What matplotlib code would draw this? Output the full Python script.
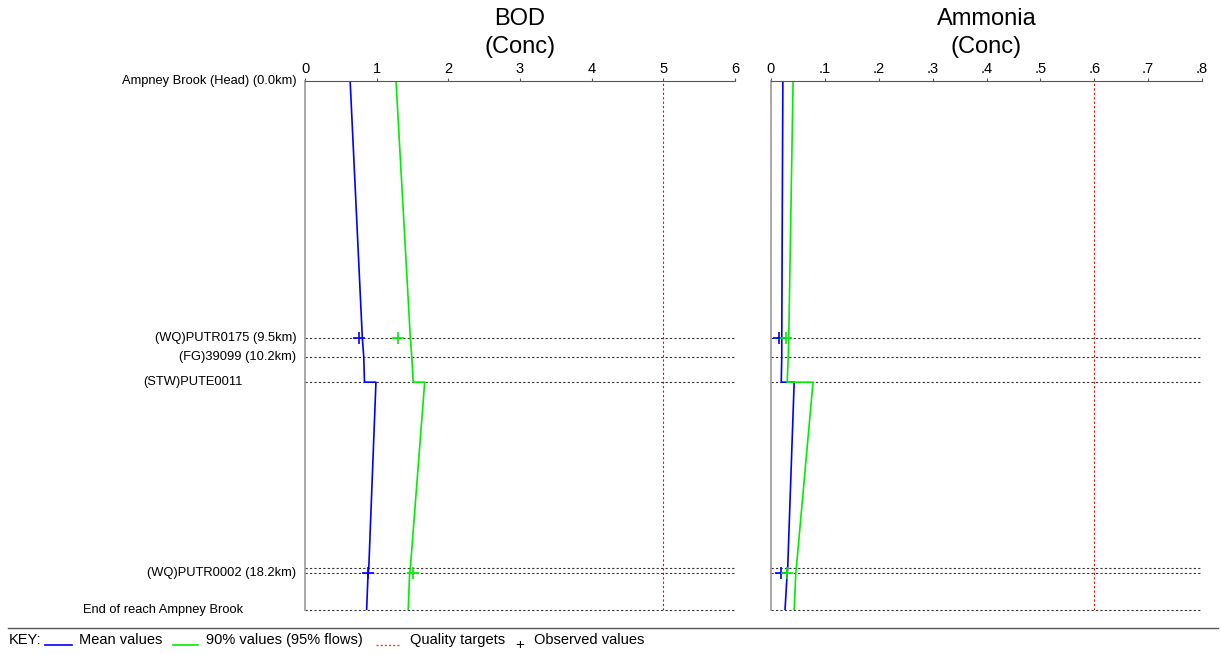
import matplotlib
matplotlib.use('Agg')
import matplotlib.pyplot as plt
from matplotlib.lines import Line2D

# distances down the reach (km)
dist = [0.0, 9.5, 10.2, 11.13, 11.13, 18.0, 18.2, 19.55]
bod_mean = [0.63, 0.80, 0.82, 0.83, 0.99, 0.89, 0.88, 0.86]
bod_90 = [1.27, 1.47, 1.49, 1.51, 1.67, 1.47, 1.46, 1.44]
amm_mean = [0.022, 0.020, 0.020, 0.019, 0.043, 0.031, 0.030, 0.026]
amm_90 = [0.041, 0.033, 0.032, 0.030, 0.078, 0.047, 0.046, 0.043]

# observed values
obs_dist = [9.5, 18.2]
bod_obs_mean = [0.75, 0.88]
bod_obs_90 = [1.30, 1.51]
amm_obs_mean = [0.015, 0.019]
amm_obs_90 = [0.028, 0.030]

# features
feat_dist = [0.0, 9.5, 10.2, 11.13, 18.0, 18.2, 19.55]
feat_labels = ['Ampney Brook (Head) (0.0km)', '(WQ)PUTR0175 (9.5km)', '(FG)39099 (10.2km)',
               '(STW)PUTE0011', '', '(WQ)PUTR0002 (18.2km)', 'End of reach Ampney Brook']
bod_target = 5
amm_target = 0.6

fig = plt.figure(figsize=(12.21, 6.54), dpi=100)
plt.rcParams['font.family'] = ['Liberation Sans', 'DejaVu Sans']

bottom = 1 - 610 / 654
top = 1 - 81 / 654
ax1 = fig.add_axes([305 / 1221, bottom, 430 / 1221, top - bottom])
ax2 = fig.add_axes([771 / 1221, bottom, 431 / 1221, top - bottom])

panels = [
    (ax1, bod_mean, bod_90, bod_obs_mean, bod_obs_90, bod_target, 6, [0, 1, 2, 3, 4, 5, 6],
     ['0', '1', '2', '3', '4', '5', '6'], 'BOD\n(Conc)'),
    (ax2, amm_mean, amm_90, amm_obs_mean, amm_obs_90, amm_target, 0.8,
     [0, 0.1, 0.2, 0.3, 0.4, 0.5, 0.6, 0.7, 0.8],
     ['0', '.1', '.2', '.3', '.4', '.5', '.6', '.7', '.8'], 'Ammonia\n(Conc)'),
]

for ax, mean, p90, om, o90, target, xmax, ticks, tlabels, title in panels:
    for d in feat_dist[1:]:
        ax.axhline(d, color='#333333', ls=(0, (2, 2)), lw=0.8, clip_on=False)
    ax.axvline(target, color='red', ls=(0, (2, 2)), lw=0.8)
    ax.plot(mean, dist, color='#0000ff', lw=1.2)
    ax.plot(p90, dist, color='#00ee00', lw=1.2)
    ax.plot(om, obs_dist, '+', color='#0000ff', ms=9, mew=1.2)
    ax.plot(o90, obs_dist, '+', color='#00ee00', ms=9, mew=1.2)
    ax.set_xlim(0, xmax)
    ax.set_ylim(19.55, 0)
    ax.xaxis.tick_top()
    ax.set_xticks(ticks)
    ax.set_xticklabels(tlabels, fontsize=10.5)
    ax.tick_params(axis='x', direction='out', length=2.5, pad=1, colors='#555555', labelcolor='black')
    ax.set_yticks([])
    for s in ['right', 'bottom']:
        ax.spines[s].set_visible(False)
    ax.spines['top'].set_color('#555555')
    ax.spines['left'].set_color('#999999')
    ax.spines['left'].set_linewidth(1.2)
    ax.set_title(title, fontsize=17, pad=20, linespacing=1.35)

# feature labels on the left
for d, lab in zip(feat_dist, feat_labels):
    if lab == '':
        continue
    xpos = -0.02
    if lab.startswith('(STW)') or lab.startswith('End'):
        xpos = -0.145
    ax1.text(xpos, d, lab, transform=ax1.get_yaxis_transform(), ha='right', va='center', fontsize=9.3)

# key at the bottom
W, H = 1221, 654
fig.add_artist(Line2D([8 / W, 1218 / W], [1 - 628 / H] * 2, color='#555555', lw=1))
ky = 1 - 640 / H
kl = 1 - 645 / H
fig.text(9 / W, ky, 'KEY:', fontsize=10.5, va='center')
fig.add_artist(Line2D([45 / W, 72 / W], [kl] * 2, color='#0000ff', lw=1.2))
fig.text(79 / W, ky, 'Mean values', fontsize=10.5, va='center')
fig.add_artist(Line2D([173 / W, 198 / W], [kl] * 2, color='#00ee00', lw=1.2))
fig.text(206 / W, ky, '90% values (95% flows)', fontsize=10.5, va='center')
fig.add_artist(Line2D([376 / W, 400 / W], [kl] * 2, color='#ff3030', lw=1.0, ls=(0, (1.5, 1.5))))
fig.text(410 / W, ky, 'Quality targets', fontsize=10.5, va='center')
fig.text(520 / W, 1 - 645 / H, '+', fontsize=11, va='center', ha='center')
fig.text(534 / W, ky, 'Observed values', fontsize=10.5, va='center')

plt.savefig('out.png', dpi=100)
